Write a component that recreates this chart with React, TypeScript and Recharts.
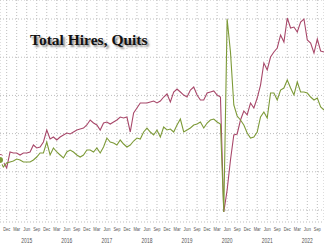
import React from 'react';
import { LineChart, Line, XAxis, YAxis, CartesianGrid } from 'recharts';

// Monthly series, first value = Sep 2014 (plotted at month end), in thousands
const quits = [
  2694, 2628, 2550, 2759, 2746, 2746, 2720, 2746, 2746, 2759, 2851, 2812,
  2825, 2890, 3047, 2929, 2956, 2916, 2956, 2982, 3008, 2995, 3021, 3047,
  3060, 3073, 3113, 3178, 3139, 3113, 3047, 3139, 3152, 3126, 3152, 3178,
  3217, 3204, 3217, 3021, 3270, 3335, 3401, 3401, 3401, 3414, 3427, 3401,
  3427, 3479, 3518, 3414, 3545, 3584, 3545, 3505, 3479, 3571, 3610, 3505,
  3440, 3440, 3532, 3545, 3558, 3505, 3479, 1974, 2262, 2655, 2982, 2995,
  3178, 3296, 3244, 3401, 3335, 3466, 3636, 3924, 3833, 4003, 4068, 4121,
  4291, 4199, 4513, 4382, 4395, 4330, 4461, 4500, 4225, 4186, 4055, 4238,
  4081, 4068,
];

const hires = [
  4416, 4288, 4361, 4379, 4398, 4434, 4416, 4379, 4379, 4379, 4416, 4471,
  4544, 4544, 4746, 4508, 4636, 4563, 4508, 4453, 4563, 4599, 4563, 4508,
  4471, 4508, 4599, 4599, 4563, 4636, 4544, 4654, 4819, 4746, 4727, 4691,
  4782, 4709, 4654, 4691, 4764, 4819, 4801, 4929, 5002, 4929, 4874, 4966,
  4837, 5021, 4966, 4984, 4929, 5057, 5167, 4929, 4966, 5002, 5057, 5076,
  5112, 5002, 5094, 5149, 5167, 5112, 5076, 3463, 6999, 6395, 5424, 5222,
  5149, 5057, 4911, 4819, 4837, 4929, 5204, 5295, 5185, 5643, 5643, 5515,
  5698, 5735, 5882, 5735, 5607, 5845, 5662, 5662, 5643, 5570, 5515, 5552,
  5387, 5332,
];

const tickMonths = ['Dec', 'Mar', 'Jun', 'Sep'];
const yearLabels = ['2015', '2016', '2017', '2018', '2019', '2020', '2021', '2022'];
const quitsGrid = [2000, 2500, 3000, 3500, 4000, 4500];

const monthNames = ['Jan', 'Feb', 'Mar', 'Apr', 'May', 'Jun', 'Jul', 'Aug', 'Sep', 'Oct', 'Nov', 'Dec'];

// position 0 = start of Dec 2014; Sep 2014 value sits at the start of Oct 2014 (-2)
const data = quits.map((q, k) => {
  const m = 8 + k;
  return {
    month: `${monthNames[m % 12]} ${2014 + Math.floor(m / 12)}`,
    pos: k - 2,
    quits: q,
    hires: hires[k],
  };
});

const quarterTicks: number[] = [];
for (let p = 0; p <= 93; p += 3) quarterTicks.push(p);

const FONT = 'Liberation Sans, Arial, sans-serif';

const MonthTick = (props: any) => {
  const { x, y, payload } = props;
  const p = payload.value as number;
  const q = (p / 3) % 4;
  const label = tickMonths[q];
  const isJun = q === 2;
  const year = yearLabels[Math.floor(p / 12)];
  return (
    <g>
      <text
        x={x}
        y={y + 9}
        textAnchor="middle"
        fontSize={6}
        fill="#555"
        fontFamily={FONT}
        textLength={7}
        lengthAdjust="spacingAndGlyphs"
      >
        {label}
      </text>
      {isJun && (
        <text
          x={x}
          y={y + 21}
          textAnchor="middle"
          fontSize={6.5}
          fill="#555"
          fontFamily={FONT}
          textLength={11}
          lengthAdjust="spacingAndGlyphs"
        >
          {year}
        </text>
      )}
    </g>
  );
};

export default function App() {
  return (
    <div style={{ position: 'absolute', left: 0, top: 0, width: 324, height: 246, background: '#fff' }}>
      <LineChart width={324} height={246} data={data} margin={{ top: 0, right: 0, bottom: 0, left: 0 }}>
        <CartesianGrid yAxisId="left" stroke="#bdbdbd" strokeDasharray="1 2" />
        <XAxis
          dataKey="pos"
          type="number"
          domain={[-2, 95]}
          ticks={quarterTicks}
          interval={0}
          allowDataOverflow
          axisLine={false}
          tickLine={false}
          tickSize={0}
          tickMargin={0}
          height={24}
          tick={<MonthTick />}
        />
        <YAxis yAxisId="left" hide type="number" domain={[1843, 4749]} ticks={quitsGrid} allowDataOverflow />
        <YAxis yAxisId="right" hide orientation="right" type="number" domain={[3280, 7348]} allowDataOverflow />
        <Line yAxisId="left" type="linear" dataKey="quits" stroke="#a8486a" strokeWidth={1.1} dot={false} isAnimationActive={false} />
        <Line yAxisId="right" type="linear" dataKey="hires" stroke="#7d9a38" strokeWidth={1.1} dot={false} isAnimationActive={false} />
      </LineChart>
      <div
        style={{
          position: 'absolute',
          left: 30,
          top: 32,
          fontFamily: '"Liberation Serif", "Times New Roman", serif',
          fontWeight: 'bold',
          fontSize: 15.5,
          lineHeight: '16px',
          color: '#111',
          whiteSpace: 'nowrap',
          textShadow: '2px 2px 2px rgba(0,0,0,0.45)',
        }}
      >
        Total Hires, Quits
      </div>
    </div>
  );
}
